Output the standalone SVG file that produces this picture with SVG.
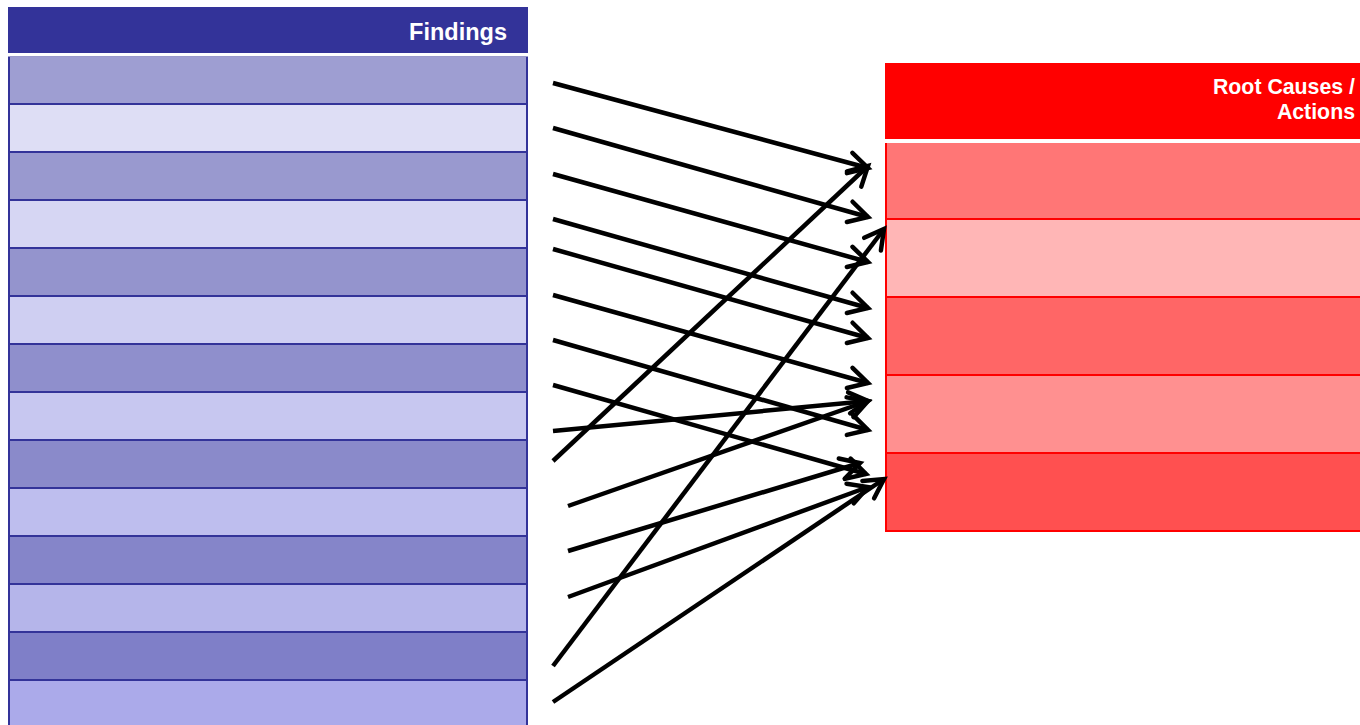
<svg xmlns="http://www.w3.org/2000/svg" width="1360" height="725" viewBox="0 0 1360 725">
  <style>
    .hdr-text { font-family: "Liberation Sans", Arial, sans-serif; font-weight: bold; fill: #ffffff; text-anchor: end; }
    .f-row { stroke: #333399; stroke-width: 2; }
    .r-row { stroke: #ff0000; stroke-width: 2; }
    .link { stroke: #000000; stroke-width: 4.5; fill: none; marker-end: url(#open-arrow); }
  </style>
  <defs>
    <marker id="open-arrow" markerUnits="userSpaceOnUse" viewBox="-26 -16 30 32" refX="0" refY="0" markerWidth="30" markerHeight="32" orient="auto" overflow="visible">
      <path d="M-19,-10.5 L0,0 L-19,10.5" fill="none" stroke="#000000" stroke-width="4.5" stroke-linecap="round" stroke-linejoin="miter"/>
    </marker>
  </defs>

  <rect width="1360" height="725" fill="#ffffff"/>

  <!-- Findings table -->
  <g id="findings">
    <rect x="8" y="7" width="520" height="46" fill="#333399"/>
    <text class="hdr-text" x="507" y="40" font-size="23.5">Findings</text>
    <rect class="f-row" x="9" y="56" width="518" height="48" fill="#9e9ed2"/>
    <rect class="f-row" x="9" y="104" width="518" height="48" fill="#dedef5"/>
    <rect class="f-row" x="9" y="152" width="518" height="48" fill="#9999cf"/>
    <rect class="f-row" x="9" y="200" width="518" height="48" fill="#d6d6f3"/>
    <rect class="f-row" x="9" y="248" width="518" height="48" fill="#9494cd"/>
    <rect class="f-row" x="9" y="296" width="518" height="48" fill="#cfcff2"/>
    <rect class="f-row" x="9" y="344" width="518" height="48" fill="#8f8fcc"/>
    <rect class="f-row" x="9" y="392" width="518" height="48" fill="#c7c7f0"/>
    <rect class="f-row" x="9" y="440" width="518" height="48" fill="#8a8aca"/>
    <rect class="f-row" x="9" y="488" width="518" height="48" fill="#bebeee"/>
    <rect class="f-row" x="9" y="536" width="518" height="48" fill="#8585c9"/>
    <rect class="f-row" x="9" y="584" width="518" height="48" fill="#b5b5ea"/>
    <rect class="f-row" x="9" y="632" width="518" height="48" fill="#7f7fc8"/>
    <rect class="f-row" x="9" y="680" width="518" height="48" fill="#abaaea"/>
    <rect x="8" y="53" width="520" height="3.5" fill="#ffffff"/>
  </g>

  <!-- Root causes / actions table -->
  <g id="root-causes">
    <rect x="885" y="63" width="480" height="76" fill="#ff0000"/>
    <text class="hdr-text" x="1355" y="94" font-size="21.3">Root Causes /</text>
    <text class="hdr-text" x="1355" y="119" font-size="21.3">Actions</text>
    <rect class="r-row" x="886" y="141" width="480" height="78" fill="#ff7676"/>
    <rect class="r-row" x="886" y="219" width="480" height="78" fill="#ffb6b6"/>
    <rect class="r-row" x="886" y="297" width="480" height="78" fill="#ff6666"/>
    <rect class="r-row" x="886" y="375" width="480" height="78" fill="#ff9090"/>
    <rect class="r-row" x="886" y="453" width="480" height="78" fill="#ff5050"/>
    <rect x="885" y="139" width="480" height="4" fill="#ffffff"/>
  </g>

  <!-- Connectors -->
  <g id="connectors">
    <line class="link" x1="553" y1="83" x2="868" y2="168"/>
    <line class="link" x1="553" y1="128" x2="868" y2="217"/>
    <line class="link" x1="553" y1="174" x2="868" y2="262"/>
    <line class="link" x1="553" y1="219" x2="868" y2="308"/>
    <line class="link" x1="553" y1="249" x2="868" y2="338"/>
    <line class="link" x1="553" y1="295" x2="868" y2="383"/>
    <line class="link" x1="553" y1="340" x2="868" y2="430"/>
    <line class="link" x1="553" y1="385" x2="866" y2="474"/>
    <line class="link" x1="553" y1="431" x2="868" y2="401"/>
    <line class="link" x1="553" y1="461" x2="868" y2="166"/>
    <line class="link" x1="568" y1="506" x2="868" y2="401"/>
    <line class="link" x1="568" y1="551" x2="860" y2="463"/>
    <line class="link" x1="568" y1="597" x2="868" y2="487"/>
    <line class="link" x1="553" y1="666" x2="884" y2="229"/>
    <line class="link" x1="553" y1="702" x2="884" y2="479"/>
  </g>
</svg>
